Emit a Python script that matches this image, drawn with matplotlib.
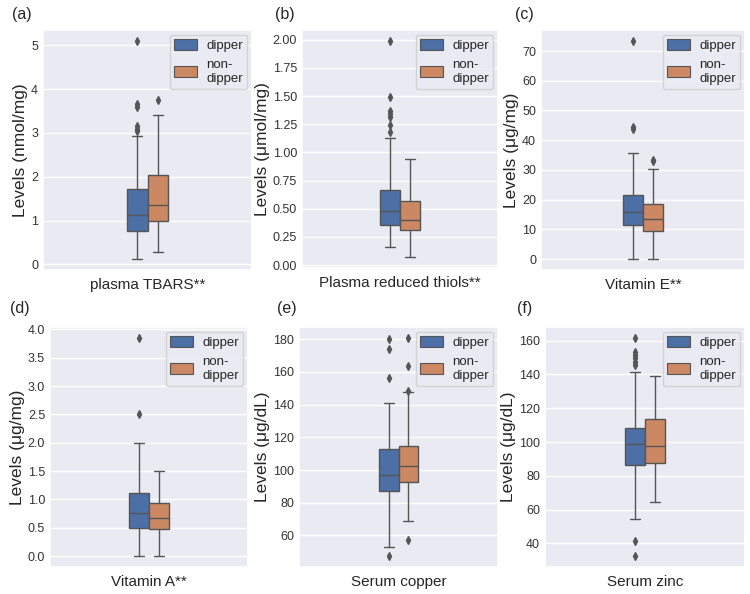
import matplotlib
matplotlib.use("Agg")
import matplotlib.pyplot as plt
import seaborn as sns
from matplotlib.patches import Patch
from matplotlib.ticker import MultipleLocator, FormatStrFormatter

sns.set_theme(style="darkgrid")
plt.rcParams['font.family'] = ['Liberation Sans', 'DejaVu Sans']

# ---------------- data ----------------
panel_tags = ["(a)", "(b)", "(c)", "(d)", "(e)", "(f)"]
categories = ["plasma TBARS**", "Plasma reduced thiols**", "Vitamin E**",
              "Vitamin A**", "Serum copper", "Serum zinc"]
ylabels = ["Levels (nmol/mg)", "Levels (μmol/mg)", "Levels (μg/mg)",
           "Levels (μg/mg)", "Levels (μg/dL)", "Levels (μg/dL)"]
groups = ["dipper", "non-\ndipper"]

# dipper box statistics
dip_lo = [0.12, 0.16, 0.0, 0.0, 53.0, 54.7]
dip_q1 = [0.76, 0.36, 11.4, 0.50, 87.0, 86.6]
dip_med = [1.12, 0.48, 16.0, 0.76, 96.9, 98.6]
dip_q3 = [1.71, 0.67, 21.7, 1.12, 112.8, 108.5]
dip_hi = [2.92, 1.13, 35.6, 2.0, 141.1, 141.7]
dip_fliers = [
    [3.05, 3.1, 3.15, 3.6, 3.65, 5.1],
    [1.18, 1.24, 1.31, 1.34, 1.37, 1.49, 1.99],
    [43.6, 44.6, 73.4],
    [2.5, 3.85],
    [47.4, 156.4, 174.3, 180.4],
    [32.5, 41.3, 145.3, 147.2, 149.6, 151.6, 153.5, 161.6],
]

# non-dipper box statistics
non_lo = [0.29, 0.07, 0.0, 0.0, 69.0, 64.6]
non_q1 = [1.0, 0.31, 9.6, 0.47, 92.5, 87.8]
non_med = [1.35, 0.40, 13.4, 0.67, 102.4, 97.6]
non_q3 = [2.03, 0.57, 18.6, 0.93, 114.6, 113.8]
non_hi = [3.42, 0.94, 30.3, 1.5, 147.5, 138.8]
non_fliers = [
    [3.75],
    [],
    [32.9, 33.4],
    [],
    [57.3, 148.5, 163.7, 180.8],
    [],
]

ytick_steps = [1, 0.25, 10, 0.5, 20, 20]
ytick_fmt = ["%d", "%.2f", "%d", "%.1f", "%d", "%d"]

# ---------------- layout ----------------
W, H = 750, 594
boxes_px = [  # left, top, right, bottom in pixels
    (43, 30, 252, 270),
    (302, 30, 498, 268),
    (541, 30, 745, 270),
    (50, 327, 248, 567),
    (299, 327, 498, 567),
    (545, 327, 745, 567),
]
tag_px = [(12, 15), (275, 15), (515, 15), (10, 308), (277, 308), (517, 308)]

blue = "#4C6FA6"
orange = "#CC8763"
line_gray = "#555555"

fig = plt.figure(figsize=(W / 100, H / 100), dpi=100)

for i in range(6):
    l, t, r, b = boxes_px[i]
    ax = fig.add_axes([l / W, 1 - b / H, (r - l) / W, (b - t) / H])
    stats = [
        dict(med=dip_med[i], q1=dip_q1[i], q3=dip_q3[i], whislo=dip_lo[i],
             whishi=dip_hi[i], fliers=dip_fliers[i]),
        dict(med=non_med[i], q1=non_q1[i], q3=non_q3[i], whislo=non_lo[i],
             whishi=non_hi[i], fliers=non_fliers[i]),
    ]
    bp = ax.bxp(stats, positions=[-0.05, 0.05], widths=0.1, patch_artist=True,
                manage_ticks=False,
                boxprops=dict(edgecolor=line_gray, linewidth=1.0),
                whiskerprops=dict(color=line_gray, linewidth=1.0),
                capprops=dict(color=line_gray, linewidth=1.0),
                medianprops=dict(color=line_gray, linewidth=1.0),
                flierprops=dict(marker="d", markersize=4.2, markerfacecolor=line_gray,
                                markeredgecolor=line_gray, linestyle="none"))
    for patch, c in zip(bp["boxes"], [blue, orange]):
        patch.set_facecolor(c)
    ax.set_xlim(-0.5, 0.5)
    ax.set_xticks([])
    ax.grid(axis="x", visible=False)
    ax.yaxis.set_major_locator(MultipleLocator(ytick_steps[i]))
    ax.yaxis.set_major_formatter(FormatStrFormatter(ytick_fmt[i]))
    ax.tick_params(axis="y", labelsize=9, length=0, pad=3.5, colors="#333333")
    ax.set_ylabel(ylabels[i], fontsize=12.5, color="#262626", labelpad=2)
    ax.set_xlabel(categories[i], fontsize=11, color="#262626", labelpad=6)
    handles = [Patch(facecolor=blue, edgecolor=line_gray, linewidth=0.8),
               Patch(facecolor=orange, edgecolor=line_gray, linewidth=0.8)]
    ax.legend(handles, groups, loc="upper right", fontsize=9.5, handlelength=1.7,
              handleheight=0.9, borderpad=0.35, labelspacing=0.5, handletextpad=0.7,
              borderaxespad=0.35)
    fig.text(tag_px[i][0] / W, 1 - tag_px[i][1] / H, panel_tags[i], fontsize=11.5,
             color="#262626", va="center", ha="left")

fig.savefig("out.png", dpi=100)
